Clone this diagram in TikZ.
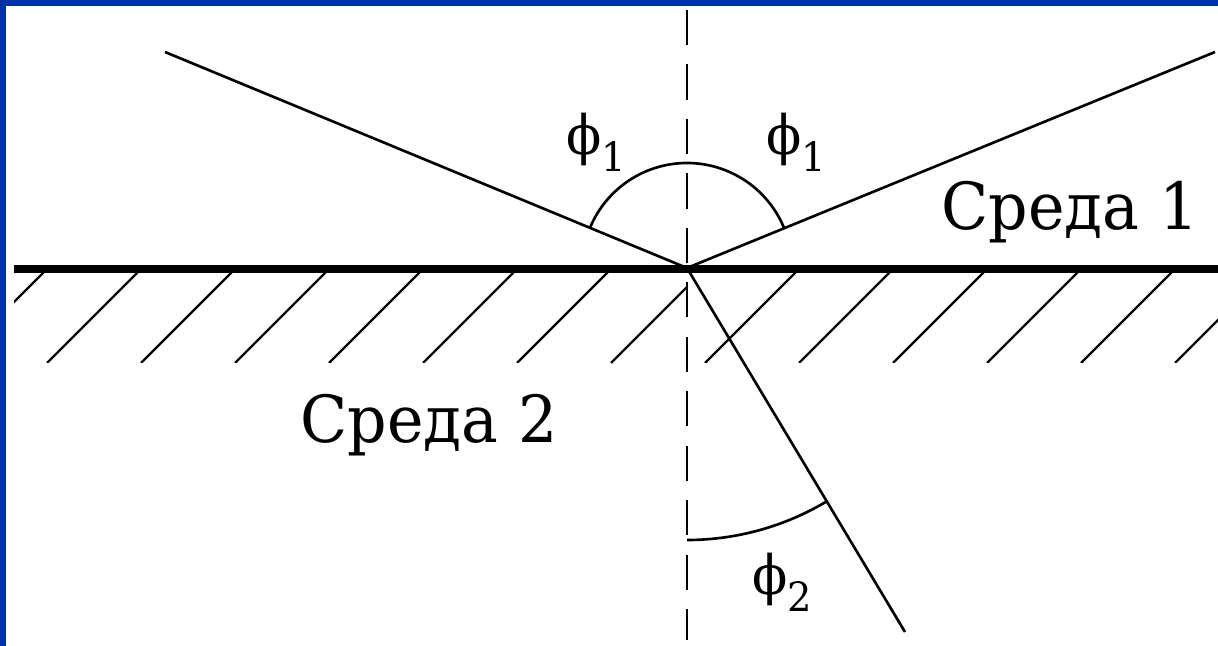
\documentclass[tikz,border=0pt]{standalone}
\usepackage{fontspec}
\setmainfont{DejaVu Serif}
\newfontfamily\rufont{DejaVu Serif}[FakeStretch=0.95]
\usepackage{tikz}
\usetikzlibrary{calc}
\definecolor{slideblue}{HTML}{0033A0}

\newcommand{\angsym}[1]{{\rufont\fontsize{31}{36}\selectfont ϕ\raisebox{-9.5pt}{\fontsize{23}{28}\selectfont #1}}}

\begin{document}
\begin{tikzpicture}[x=0.02cm, y=0.02cm,
    ray/.style={line width=1.5pt},
    hatch/.style={line width=1.3pt},
    medium/.style={font=\rufont\fontsize{37}{44}\selectfont, inner sep=0pt},
    anglbl/.style={anchor=base west, inner sep=0pt}]
  \useasboundingbox (0,0) rectangle (1218,646);
  \fill[slideblue] (0,0) rectangle (6,646);
  \fill[slideblue] (0,640) rectangle (1218,646);

  \coordinate (O) at (687,378);
  \coordinate (inc) at (165,594);
  \coordinate (refl) at (1215,594);
  \coordinate (refr) at (905,14);
  \coordinate (ntop) at (687,636);
  \coordinate (nbot) at (687,6);

  % hatching of medium 2
  \begin{scope}
    \clip (14,283) rectangle (1218,374);
    \foreach \k in {0,...,6,8,9,...,13}
      \draw[hatch] ({44+94*\k},374) -- ++(-91,-91);
  \end{scope}
  \draw[hatch] (687,359) -- (611,283);

  % interface and normal
  \draw[line width=4pt] (14,377) -- (1218,377);
  \draw[ray, dash pattern=on 20pt off 11pt] (ntop) -- (nbot);

  % rays
  \draw[ray] (inc) -- (O);
  \draw[ray] (O) -- (refl);
  \draw[ray] (O) -- (refr);

  % angles
  \draw[ray] ($(O)+(157.5:105)$) arc[start angle=157.5, end angle=90, radius=105];
  \draw[ray] ($(O)+(90:105)$) arc[start angle=90, end angle=22.5, radius=105];
  \draw[ray] ($(O)+(-90:272)$) arc[start angle=-90, end angle=-59.1, radius=272];

  \node[anglbl] (phiL) at (566,491) {\angsym{1}};
  \node[anglbl] (phiR) at (766,491) {\angsym{1}};
  \node[anglbl] (phiB) at (752,51) {\angsym{2}};

  \node[medium, anchor=base] (med1) at (1070,416) {Среда 1};
  \node[medium, anchor=base] (med2) at (429,203) {Среда 2};
\end{tikzpicture}
\end{document}
